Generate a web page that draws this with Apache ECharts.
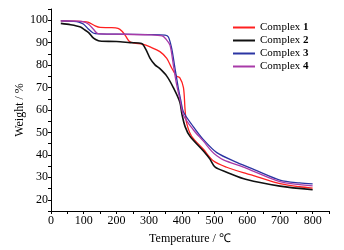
<!DOCTYPE html>
<html>
<head>
<meta charset="utf-8">
<script src="https://cdn.jsdelivr.net/npm/echarts@6/dist/echarts.min.js"></script>
<style>
  html, body { margin: 0; padding: 0; background: #fff; }
  #chart { width: 344px; height: 250px; }
</style>
</head>
<body>
<div id="chart"></div>
<script>
// TGA curves (temperature in C, weight in %)
const names = ["Complex 1", "Complex 2", "Complex 3", "Complex 4"];
const colors = ["#ff2020", "#111111", "#2b35a3", "#a83aa8"];

const temp1 = [30, 60, 100, 115, 135, 150, 180, 205, 218, 228, 240, 255, 280, 303, 333, 354, 369, 384, 394, 405, 410, 415, 430, 466, 496, 537, 598, 619, 700, 760, 800];
const weight1 = [99.7, 99.6, 99.4, 99, 97.5, 96.8, 96.7, 96.4, 95, 93, 90.5, 89.8, 89.3, 88.1, 86, 83, 78.7, 75.1, 74.3, 70, 60, 54, 48.3, 42.5, 37.4, 34.5, 31.6, 30.8, 27.2, 25.8, 25.2];

const temp2 = [30, 60, 90, 100, 115, 130, 145, 155, 200, 242, 277, 290, 303, 318, 333, 354, 374, 394, 400, 410, 425, 466, 486, 502, 537, 598, 700, 800];
const weight2 = [98.6, 98, 97, 96, 94.5, 92, 90.8, 90.6, 90.5, 90, 89.6, 87, 83, 80.1, 78.4, 75.1, 70, 63.5, 58.4, 52.6, 48.3, 41.7, 38.1, 34.5, 32.3, 29, 26.1, 24.5];

const temp3 = [30, 70, 85, 99, 114, 129, 145, 200, 300, 349, 359, 369, 379, 389, 397, 405, 435, 466, 507, 568, 629, 700, 760, 800];
const weight3 = [99.7, 99.5, 99.2, 98.3, 96.1, 94.3, 93.9, 93.8, 93.6, 93.4, 92.5, 87.4, 78.7, 70, 64.2, 59.1, 52.6, 46.8, 41, 36.7, 33, 28.8, 27.5, 27.1];

const temp4 = [30, 80, 100, 114, 129, 140, 150, 200, 300, 340, 352, 364, 374, 384, 394, 405, 435, 466, 491, 507, 527, 598, 700, 800];
const weight4 = [99.7, 99.6, 99.3, 98.3, 96.1, 94.3, 93.9, 93.8, 93.5, 93, 91.5, 88.8, 80.1, 71.4, 64.9, 57.7, 51.2, 46.1, 41.7, 39.6, 37.8, 34, 28.1, 26.2];

const temps = [temp1, temp2, temp3, temp4];
const weights = [weight1, weight2, weight3, weight4];

const serif = "Liberation Serif";

const chart = echarts.init(document.getElementById("chart"));
chart.setOption({
  animation: false,
  backgroundColor: "#fff",
  grid: { left: 51, right: 15, top: 9, bottom: 33 },
  legend: {
    orient: "vertical",
    left: 228,
    top: 17,
    icon: "rect",
    itemWidth: 22,
    itemHeight: 2,
    itemGap: 2,
    data: names,
    formatter: (n) => "{a|Complex }{b|" + n.split(" ")[1] + "}",
    textStyle: {
      fontFamily: serif,
      fontSize: 11,
      color: "#000",
      rich: {
        a: { fontFamily: serif, fontSize: 11, color: "#000" },
        b: { fontFamily: serif, fontSize: 11, fontWeight: "bold", color: "#000" },
      },
    },
  },
  xAxis: {
    type: "value",
    min: 0,
    max: 850,
    interval: 50,
    name: "Temperature / ℃",
    nameLocation: "middle",
    nameMoveOverlap: false,
    nameGap: 22,
    nameTextStyle: { fontFamily: serif, fontSize: 12, color: "#000", verticalAlign: "top" },
    axisLine: { lineStyle: { color: "#000", width: 1 } },
    axisTick: { length: 3, lineStyle: { color: "#000" } },
    axisLabel: {
      margin: 4,
      fontFamily: serif,
      fontSize: 12,
      color: "#000",
      formatter: (v) => (v % 100 === 0 ? String(v) : ""),
    },
    splitLine: { show: false },
  },
  yAxis: {
    type: "value",
    min: 15,
    max: 105,
    interval: 5,
    name: "Weight / %",
    nameLocation: "middle",
    nameMoveOverlap: false,
    nameGap: 25,
    nameTextStyle: { fontFamily: serif, fontSize: 12, color: "#000" },
    axisLine: { show: true, lineStyle: { color: "#000", width: 1 } },
    axisTick: { show: true, length: 3, lineStyle: { color: "#000" } },
    axisLabel: {
      margin: 3,
      fontFamily: serif,
      fontSize: 12,
      color: "#000",
      formatter: (v) => (v % 10 === 0 ? String(v) : ""),
    },
    splitLine: { show: false },
  },
  series: names.map((n, i) => ({
    name: n,
    type: "line",
    symbol: "none",
    smooth: 0.3,
    color: colors[i],
    lineStyle: { color: colors[i], width: i === 1 ? 1.6 : 1.3 },
    data: temps[i].map((t, k) => [t, weights[i][k]]),
  })),
});
</script>
</body>
</html>
